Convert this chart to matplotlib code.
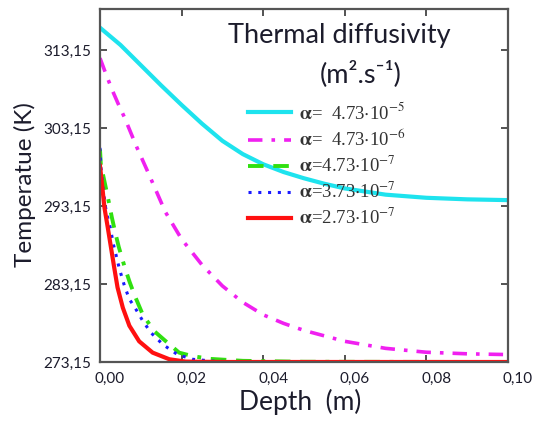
import matplotlib
matplotlib.use('Agg')
import matplotlib.pyplot as plt
import matplotlib.transforms as mtransforms
from matplotlib.ticker import FuncFormatter

# temperature (K) against depth (m), one pair of lists per diffusivity
depth_a1 = [0, 0.005, 0.01, 0.015, 0.02, 0.025, 0.03, 0.035, 0.04, 0.045, 0.05, 0.055, 0.06, 0.065,
            0.07, 0.08, 0.09, 0.10]
temp_a1 = [316.0, 313.8, 311.2, 308.6, 306.1, 303.7, 301.5, 299.8, 298.5, 297.5, 296.7, 296.0, 295.4, 295.0,
           294.6, 294.2, 294.0, 293.9]

depth_a2 = [0, 0.0015, 0.003, 0.0045, 0.006, 0.009, 0.012, 0.016, 0.02, 0.025, 0.03, 0.035, 0.04, 0.045,
            0.05, 0.06, 0.07, 0.08, 0.09, 0.10]
temp_a2 = [312.1, 310.0, 308.0, 306.2, 304.5, 300.7, 297.2, 292.4, 288.9, 285.6, 282.9, 280.8, 279.2, 278.1,
           277.2, 275.8, 274.9, 274.4, 274.2, 274.1]

depth_a3 = [0, 0.0002, 0.0015, 0.0021, 0.0029, 0.0038, 0.0046, 0.006, 0.0072, 0.0084, 0.0105, 0.0133,
            0.0166, 0.0194, 0.0227, 0.027, 0.035, 0.05, 0.10]
temp_a3 = [300.4, 298.5, 295.3, 293.8, 291.7, 289.6, 287.9, 285.4, 283.5, 281.8, 279.2, 277.1,
           275.6, 274.35, 273.9, 273.55, 273.3, 273.18, 273.15]

depth_a4 = [0, 0.0002, 0.0008, 0.0015, 0.0025, 0.0033, 0.0041, 0.0047, 0.006, 0.0072, 0.0087, 0.0105,
            0.0125, 0.0154, 0.019, 0.0227, 0.028, 0.035, 0.10]
temp_a4 = [300.6, 298.3, 295.1, 292.5, 290.4, 288.2, 286.5, 285.2, 282.9, 281.2, 280.0, 278.4,
           276.9, 275.4, 274.1, 273.5, 273.25, 273.17, 273.15]

depth_a5 = [0, 0.0005, 0.0011, 0.0019, 0.0027, 0.0035, 0.0043, 0.0056, 0.0072, 0.0096, 0.0129, 0.017,
            0.021, 0.03, 0.10]
temp_a5 = [298.3, 295.9, 292.9, 290.4, 287.8, 285.2, 282.7, 280.1, 277.8, 275.8, 274.35, 273.5,
           273.2, 273.15, 273.15]

labels = [r'$\mathbf{\alpha}$=  4.73$\cdot$10$^{-5}$',
          r'$\mathbf{\alpha}$=  4.73$\cdot$10$^{-6}$',
          r'$\mathbf{\alpha}$=4.73$\cdot$10$^{-7}$',
          r'$\mathbf{\alpha}$=3.73$\cdot$10$^{-7}$',
          r'$\mathbf{\alpha}$=2.73$\cdot$10$^{-7}$']

x_ticks = [0, 0.02, 0.04, 0.06, 0.08, 0.10]
y_ticks = [273.15, 283.15, 293.15, 303.15, 313.15]

plt.rcParams['mathtext.fontset'] = 'stix'
SANS = ['Lato', 'DejaVu Sans']
TXT = '#1c1c2c'

W, H = 537, 422
fig = plt.figure(figsize=(W / 100, H / 100), dpi=100)
ax = fig.add_axes([100 / W, 1 - 362 / H, 408 / W, 353 / H])

styles = [
    dict(color='#1ee3ee', lw=3.0, ls='-'),
    dict(color='#f020f0', lw=2.6, ls=(0, (4, 2.5, 1, 2.5))),
    dict(color='#30e010', lw=2.8, ls=(0, (4, 2.5, 4, 2.5, 1, 2.5))),
    dict(color='#1a1aff', lw=2.2, ls=(0, (1, 2.2))),
    dict(color='#ff1010', lw=3.0, ls='-'),
]
series = [(depth_a1, temp_a1), (depth_a2, temp_a2), (depth_a3, temp_a3),
          (depth_a4, temp_a4), (depth_a5, temp_a5)]
handles = []
for (d, t), st in zip(series, styles):
    h, = ax.plot(d, t, **st)
    handles.append(h)

ax.set_xlim(0, 0.10)
ax.set_ylim(273.15, 318.4)
ax.set_xticks(x_ticks)
ax.set_yticks(y_ticks)
ax.xaxis.set_major_formatter(FuncFormatter(lambda v, p: f'{v:.2f}'.replace('.', ',')))
ax.yaxis.set_major_formatter(FuncFormatter(lambda v, p: f'{v:.2f}'.replace('.', ',')))
ax.tick_params(direction='in', length=5, width=1.3, color='#444444',
               top=True, right=True, labelsize=11, labelcolor=TXT)
ax.tick_params(axis='x', pad=7)
ax.tick_params(axis='y', pad=6)
for lab in ax.get_xticklabels() + ax.get_yticklabels():
    lab.set_fontfamily(SANS)
shift = mtransforms.ScaledTranslation(10 / 100, 0, fig.dpi_scale_trans)
for lab in ax.get_xticklabels():
    lab.set_transform(lab.get_transform() + shift)
for sp in ax.spines.values():
    sp.set_color('#555555')
    sp.set_linewidth(1.6)

fig.text(300 / W, 1 - 402 / H, 'Depth  (m)', ha='center', va='center',
         fontsize=19, family=SANS, color=TXT)
fig.text(25 / W, 1 - 185 / H, 'Temperatue (K)', ha='center', va='center',
         rotation=90, fontsize=17.5, family=SANS, color=TXT)

fig.text(228 / W, 1 - 43 / H, 'Thermal diffusivity', ha='left', va='baseline',
         fontsize=19.5, family=SANS, color=TXT)
fig.text(361 / W, 1 - 82 / H, '(m².s⁻¹)', ha='center', va='baseline',
         fontsize=19.5, family=SANS, color=TXT)

leg = fig.legend(handles, labels, loc='upper left', bbox_to_anchor=(248 / W, 1 - 102 / H),
                 frameon=False, borderpad=0, borderaxespad=0, handlelength=2.3,
                 handletextpad=0.4, labelspacing=0.3,
                 prop=dict(family='Liberation Serif', size=13.5))
for t in leg.get_texts():
    t.set_color('#333333')

fig.savefig('out.png', dpi=100)
